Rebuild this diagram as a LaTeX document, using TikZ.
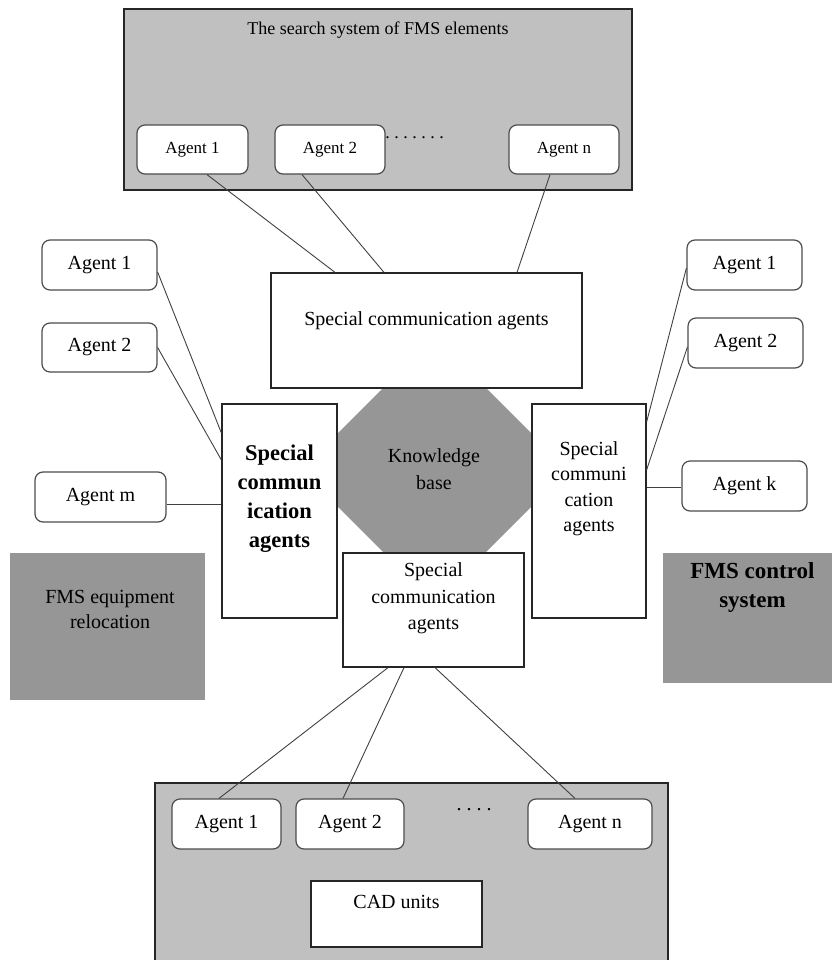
\documentclass[tikz,border=0pt]{standalone}
\usepackage{fontspec}
\setmainfont{Liberation Serif}
\definecolor{sysgray}{HTML}{C0C0C0}
\definecolor{kbgray}{HTML}{969696}

\begin{document}
\begin{tikzpicture}[x=1pt,y=-1pt,
  font=\fontsize{20}{26}\selectfont,
  sysbox/.style={draw=black!85,line width=1.2pt,fill=sysgray,inner sep=0pt},
  agentbox/.style={draw=black!70,line width=1.2pt,rounded corners=8pt,fill=white,inner sep=0pt},
  commbox/.style={draw=black!85,line width=1.2pt,fill=white,inner sep=0pt},
  greybox/.style={fill=kbgray,inner sep=0pt},
  link/.style={draw=black!75,line width=0.9pt},
  lbl/.style={align=center,inner sep=0pt}]
\useasboundingbox (0,0) rectangle (831,960);

\node[sysbox,minimum width=508,minimum height=181] (topsys) at (378,99.5) {};
\node[lbl,font=\fontsize{18}{22}\selectfont] (toptitle) at (378,30) {The search system of FMS elements};
\node[agentbox,minimum width=111,minimum height=49,font=\fontsize{17}{20}\selectfont] (ta1) at (192.5,149.5) {Agent 1};
\node[agentbox,minimum width=110,minimum height=49,font=\fontsize{17}{20}\selectfont] (ta2) at (330,149.5) {Agent 2};
\node[agentbox,minimum width=110,minimum height=49,font=\fontsize{17}{20}\selectfont] (tan) at (564,149.5) {Agent n};
\node[anchor=base,inner sep=0pt,font=\fontsize{18}{20}\selectfont] (topdots) at (414.5,139) {.\ .\ .\ .\ .\ .\ .};

\fill[kbgray] (391,380) -- (478,380) -- (532,434) -- (532,506) -- (478,560) -- (391,560) -- (337,506) -- (337,434) -- cycle;
\node[lbl,font=\fontsize{20}{27}\selectfont] (kb) at (434,469) {Knowledge\\base};

\node[commbox,minimum width=311,minimum height=115] (topcomm) at (426.5,330.5) {};
\node[lbl] (topcommtext) at (426.5,321) {Special communication agents};

\node[commbox,minimum width=115,minimum height=214] (leftcomm) at (279.5,511) {};
\node[lbl,font=\bfseries\fontsize{22.5}{29}\selectfont] (leftcommtext) at (279.5,498.5) {Special\\commun\\ication\\agents};

\node[commbox,minimum width=114,minimum height=214] (rightcomm) at (589,511) {};
\node[lbl,font=\fontsize{20}{25.5}\selectfont] (rightcommtext) at (589,488.5) {Special\\communi\\cation\\agents};

\node[commbox,minimum width=181,minimum height=114] (botcomm) at (433.5,610) {};
\node[lbl,font=\fontsize{20}{26.5}\selectfont] (botcommtext) at (433.5,598.5) {Special\\communication\\agents};

\node[agentbox,minimum width=115,minimum height=50] (la1) at (99.5,265) {Agent 1};
\node[agentbox,minimum width=115,minimum height=49] (la2) at (99.5,347.5) {Agent 2};
\node[agentbox,minimum width=131,minimum height=50] (lam) at (100.5,497) {Agent m};

\node[agentbox,minimum width=115,minimum height=50] (ra1) at (744.5,265) {Agent 1};
\node[agentbox,minimum width=115,minimum height=50] (ra2) at (745.5,343) {Agent 2};
\node[agentbox,minimum width=125,minimum height=50] (rak) at (744.5,486) {Agent k};

\node[greybox,minimum width=195,minimum height=147] (reloc) at (107.5,626.5) {};
\node[lbl,font=\fontsize{20}{25}\selectfont] (reloctext) at (110,609.5) {FMS equipment\\relocation};

\node[greybox,minimum width=172,minimum height=130] (control) at (749,618) {};
\node[lbl,font=\bfseries\fontsize{23}{29}\selectfont] (controltext) at (752.5,587.5) {FMS control\\system};

\node[sysbox,minimum width=513,minimum height=182] (botsys) at (411.5,874) {};
\node[agentbox,minimum width=109,minimum height=50] (ba1) at (226.5,824) {Agent 1};
\node[agentbox,minimum width=108,minimum height=50] (ba2) at (350,824) {Agent 2};
\node[agentbox,minimum width=124,minimum height=50] (ban) at (590,824) {Agent n};
\node[anchor=base,inner sep=0pt] (botdots) at (474,810) {.\ .\ .\ .};
\node[commbox,minimum width=171,minimum height=66] (cad) at (396.5,914) {};
\node[lbl] (cadtext) at (396.5,902) {CAD units};

\draw[link] ([xshift=14.5pt]ta1.south) -- ([xshift=-91.5pt]topcomm.north);
\draw[link] ([xshift=-28pt]ta2.south) -- ([xshift=-42.5pt]topcomm.north);
\draw[link] ([xshift=-14pt]tan.south) -- ([xshift=90.5pt]topcomm.north);

\draw[link] ([yshift=-7pt]la1.east) -- ([yshift=78pt]leftcomm.west);
\draw[link] (la2.east) -- ([yshift=51pt]leftcomm.west);
\draw[link] ([yshift=-7pt]lam.east) -- ([yshift=7pt]leftcomm.west);

\draw[link] ([yshift=-3pt]ra1.west) -- ([yshift=89pt]rightcomm.east);
\draw[link] ([yshift=-4pt]ra2.west) -- ([yshift=41pt]rightcomm.east);
\draw[link] ([yshift=-1pt]rak.west) -- ([yshift=24pt]rightcomm.east);

\draw[link] ([xshift=-45.5pt]botcomm.south) -- ([xshift=-7.5pt]ba1.north);
\draw[link] ([xshift=-29.5pt]botcomm.south) -- ([xshift=-7pt]ba2.north);
\draw[link] ([xshift=1.5pt]botcomm.south) -- ([xshift=-15pt]ban.north);

\end{tikzpicture}
\end{document}
